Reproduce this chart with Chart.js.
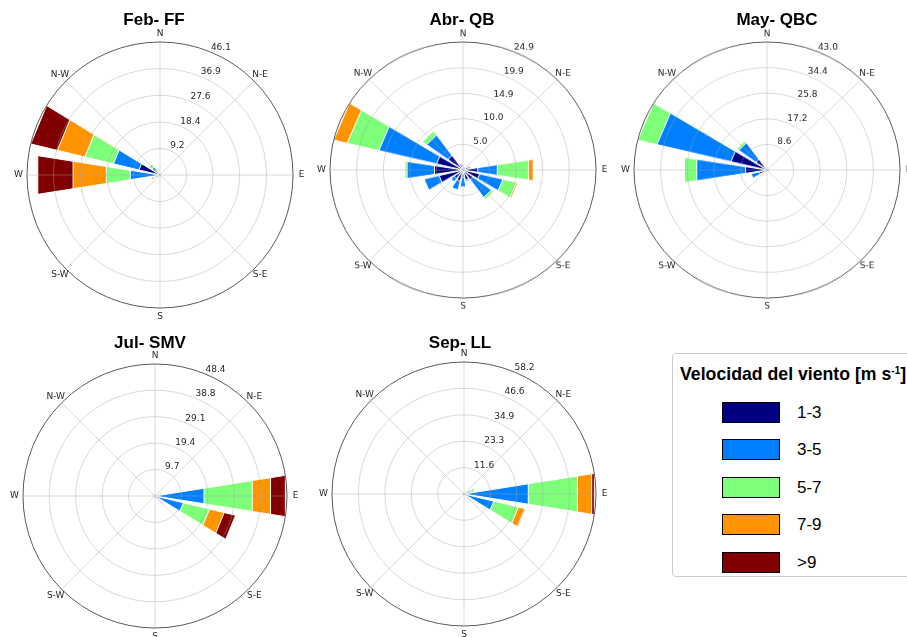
<!DOCTYPE html>
<html lang="es">
<head>
<meta charset="utf-8">
<title>Rosas de viento</title>
<script src="https://cdn.jsdelivr.net/npm/chart.js@4.4.1/dist/chart.umd.min.js"></script>
<style>
  html, body { margin: 0; padding: 0; background: #ffffff; }
  body { position: relative; width: 907px; height: 637px; overflow: hidden; font-family: "Liberation Sans", Arial, sans-serif; }
  canvas.rose { position: absolute; transform-origin: 50% 50%; }
  .rose-title { position: absolute; font-weight: bold; font-size: 17px; line-height: 20px; white-space: nowrap; color: #000; transform: translateX(-50%); z-index: 1; }
  #legend { position: absolute; left: 672px; top: 353px; width: 260px; height: 224px; box-sizing: border-box; border: 1px solid #cccccc; border-radius: 4px; background: #fff; z-index: 2; }
  #legend .lg-title { position: absolute; left: 7px; top: 10px; font-weight: bold; font-size: 17.7px; line-height: 20px; white-space: nowrap; color: #000; }
  #legend .lg-title sup { font-size: 10px; vertical-align: 6px; line-height: 0; }
  .lg-item { position: absolute; left: 49px; height: 21px; }
  .lg-swatch { position: absolute; left: 0; top: 0; width: 58px; height: 21px; box-sizing: border-box; border: 1px solid #000; }
  .lg-label { position: absolute; left: 75px; top: 0; font-size: 17px; line-height: 21px; white-space: nowrap; color: #000; }
</style>
</head>
<body>
<div id="legend"><div class="lg-title">Velocidad del viento [m s<sup>-1</sup>]</div></div>
<script>
// Direction sectors (16) and wind-speed classes
const directions = ['N', 'NNE', 'NE', 'ENE', 'E', 'ESE', 'SE', 'SSE', 'S', 'SSW', 'SW', 'WSW', 'W', 'WNW', 'NW', 'NNW'];
const speedBins = ['1-3', '3-5', '5-7', '7-9', '>9'];
const binColors = ['#000080', '#0080ff', '#7dff7a', '#ff9400', '#800000'];
const compassLabels = ['N', 'N-E', 'E', 'S-E', 'S', 'S-W', 'W', 'N-W'];

// Frequency (%) per direction, one array per speed class
// Feb- FF
const feb_1_3 = [0.3, 0, 0, 0, 0, 0, 0, 0, 0, 0, 0.3, 0.8, 1.5, 7.5, 1.0, 0.4];
const feb_3_5 = [0, 0, 0, 0, 0, 0, 0, 0, 0, 0, 0, 1.0, 8.9, 9.1, 2.5, 0];
const feb_5_7 = [0, 0, 0, 0, 0, 0, 0, 0, 0, 0, 0, 0.5, 8.4, 10.2, 1.2, 0];
const feb_7_9 = [0, 0, 0, 0, 0, 0, 0, 0, 0, 0, 0, 0.4, 11.7, 9.8, 0, 0];
const feb_gt9 = [0, 0, 0, 0, 0, 0, 0, 0, 0, 0, 0, 0.4, 12.4, 9.5, 0, 0];
const febTicks = [9.2, 18.4, 27.6, 36.9, 46.1];

// Abr- QB
const abr_1_3 = [0.6, 0.5, 0.4, 1.2, 2.8, 3.2, 2.3, 2.0, 1.4, 2.2, 2.0, 4.6, 5.4, 5.1, 3.5, 1.2];
const abr_3_5 = [0.5, 0, 0, 0.3, 3.7, 4.5, 4.3, 0.3, 1.9, 1.8, 0.8, 2.9, 5.2, 11.1, 4.9, 0];
const abr_5_7 = [0, 0, 0, 0, 5.9, 2.6, 0.5, 0, 0, 0, 0, 0, 0.4, 6.1, 1.0, 0];
const abr_7_9 = [0, 0, 0, 0, 0.9, 0.3, 0, 0, 0, 0, 0, 0, 0, 2.6, 0, 0];
const abr_gt9 = [0, 0, 0, 0, 0, 0, 0, 0, 0, 0, 0, 0, 0, 0, 0, 0];
const abrTicks = [5.0, 10.0, 14.9, 19.9, 24.9];

// May- QBC
const may_1_3 = [0.3, 0, 0, 0, 0.4, 0, 0, 0, 0, 0, 0.5, 2.5, 7.0, 12.0, 4.4, 0.6];
const may_3_5 = [0, 0, 0, 0, 0.5, 0, 0, 0, 0, 0, 0.3, 2.8, 16.0, 24.6, 6.9, 0];
const may_5_7 = [0, 0, 0, 0, 0, 0, 0, 0, 0, 0, 0, 0, 4.0, 6.4, 0.8, 0];
const may_7_9 = [0, 0, 0, 0, 0, 0, 0, 0, 0, 0, 0, 0, 0, 0, 0, 0];
const may_gt9 = [0, 0, 0, 0, 0, 0, 0, 0, 0, 0, 0, 0, 0, 0, 0, 0];
const mayTicks = [8.6, 17.2, 25.8, 34.4, 43.0];

// Jul- SMV
const jul_1_3 = [0, 0, 0, 0.5, 0.8, 1.0, 0.4, 0, 0, 0, 0, 0, 0.5, 0.8, 0, 0];
const jul_3_5 = [0, 0, 0, 1.0, 17.4, 9.7, 0.8, 0, 0, 0, 0, 0, 0, 0.3, 0, 0];
const jul_5_7 = [0, 0, 0, 1.1, 17.9, 9.9, 0.3, 0, 0, 0, 0, 0, 0, 0, 0, 0];
const jul_7_9 = [0, 0, 0, 0, 6.8, 5.5, 0, 0, 0, 0, 0, 0, 0, 0, 0, 0];
const jul_gt9 = [0, 0, 0, 0, 5.5, 4.3, 0, 0, 0, 0, 0, 0, 0, 0, 0, 0];
const julTicks = [9.7, 19.4, 29.1, 38.8, 48.4];

// Sep- LL
const sep_1_3 = [0, 0, 0.5, 1.5, 1.0, 1.0, 0.5, 0, 0, 0, 0, 0, 0, 0, 0, 0];
const sep_3_5 = [0, 0, 0, 1.5, 27.7, 12.5, 0, 0, 0, 0, 0, 0, 0, 0, 0, 0];
const sep_5_7 = [0, 0, 0, 1.9, 21.9, 11.2, 0, 0, 0, 0, 0, 0, 0, 0, 0, 0];
const sep_7_9 = [0, 0, 0, 0, 6.4, 2.9, 0, 0, 0, 0, 0, 0, 0, 0, 0, 0];
const sep_gt9 = [0, 0, 0, 0, 1.2, 0.4, 0, 0, 0, 0, 0, 0, 0, 0, 0, 0];
const sepTicks = [11.6, 23.3, 34.9, 46.6, 58.2];

// Panels: title, data and where each rose sits on the page (sy = vertical stretch of the panel)
const panels = [
  { title: 'Feb- FF',  bins: [feb_1_3, feb_3_5, feb_5_7, feb_7_9, feb_gt9], ticks: febTicks, cx: 160, cy: 175, R: 133, sy: 1, tx: 154, ty: 9.5 },
  { title: 'Abr- QB',  bins: [abr_1_3, abr_3_5, abr_5_7, abr_7_9, abr_gt9], ticks: abrTicks, cx: 463, cy: 170, R: 133, sy: 128 / 133, tx: 462, ty: 9.5 },
  { title: 'May- QBC', bins: [may_1_3, may_3_5, may_5_7, may_7_9, may_gt9], ticks: mayTicks, cx: 767, cy: 170, R: 133, sy: 128 / 133, tx: 777, ty: 9.5 },
  { title: 'Jul- SMV', bins: [jul_1_3, jul_3_5, jul_5_7, jul_7_9, jul_gt9], ticks: julTicks, cx: 155, cy: 496, R: 132, sy: 1, tx: 150, ty: 332.5 },
  { title: 'Sep- LL',  bins: [sep_1_3, sep_3_5, sep_5_7, sep_7_9, sep_gt9], ticks: sepTicks, cx: 464, cy: 494, R: 132, sy: 1, tx: 460, ty: 332.5 }
];

const BAR_ANGLE = 18;      // degrees covered by each sector bar
const GAP_ANGLE = 4.5;     // empty wedge between neighbouring bars
const PAD = 22;            // room around the circle for the compass text
const gridColor = 'rgba(165,165,165,0.42)';
const frameColor = '#5a5a5a';
const textColor = '#262626';

// 40 spokes of 9 degrees starting at -9 deg: every 5th spoke (from index 1) is a compass point
const spokeLabels = Array.from({ length: 40 }, (_, i) => ((i - 1) % 5 === 0 ? compassLabels[(i - 1) / 5] : ''));

// Compass names around the rim and ring values along the 22.5 deg ray
const roseText = {
  id: 'roseText',
  afterDraw(chart, args, opts) {
    const s = chart.scales.r;
    const ctx = chart.ctx;
    ctx.save();
    ctx.fillStyle = textColor;
    ctx.font = '9px "DejaVu Sans"';
    ctx.textAlign = 'center';
    ctx.textBaseline = 'middle';
    chart.data.labels.forEach((lab, i) => {
      if (!lab) return;
      const p = s.getPointPosition(i, s.drawingArea + 8.5);
      ctx.fillText(lab, p.x, p.y);
    });
    ctx.textAlign = 'left';
    ctx.textBaseline = 'bottom';
    const a = Math.PI / 8;
    opts.ticks.forEach(v => {
      const d = s.getDistanceFromCenterForValue(v);
      ctx.fillText(v.toFixed(1), s.xCenter + d * Math.sin(a), s.yCenter - d * Math.cos(a));
    });
    ctx.restore();
  }
};

function addTitle(p) {
  const t = document.createElement('div');
  t.className = 'rose-title';
  t.textContent = p.title;
  t.style.left = p.tx + 'px';
  t.style.top = p.ty + 'px';
  document.body.appendChild(t);
}

function addRose(p) {
  const size = 2 * p.R + 2 * PAD;
  const cv = document.createElement('canvas');
  cv.className = 'rose';
  cv.width = size;
  cv.height = size;
  cv.style.width = size + 'px';
  cv.style.height = size + 'px';
  cv.style.left = (p.cx - p.R - PAD) + 'px';
  cv.style.top = (p.cy - p.R - PAD) + 'px';
  if (p.sy !== 1) cv.style.transform = 'scaleY(' + p.sy + ')';
  document.body.appendChild(cv);

  // stacked classes: each dataset reaches the running total, the smallest drawn on top
  let run = new Array(directions.length).fill(0);
  const totals = p.bins.map(b => (run = run.map((v, k) => v + b[k])));
  const datasets = totals.map((tot, b) => ({
    label: speedBins[b],
    data: tot.flatMap(v => [v, 0]),
    backgroundColor: binColors[b],
    borderColor: '#ffffff',
    borderWidth: c => (c.index % 2 === 0 && tot[c.index / 2] > 0 ? 1 : 0),
    angle: c => (c.index % 2 === 0 ? BAR_ANGLE : GAP_ANGLE),
    circular: false
  }));

  const rMax = p.ticks[p.ticks.length - 1];
  new Chart(cv, {
    type: 'polarArea',
    data: { labels: spokeLabels, datasets },
    options: {
      responsive: false,
      animation: false,
      devicePixelRatio: 1,
      events: [],
      layout: { padding: PAD },
      plugins: { legend: { display: false }, tooltip: { enabled: false }, roseText: { ticks: p.ticks } },
      scales: {
        r: {
          min: 0,
          max: rMax,
          startAngle: -BAR_ANGLE / 2,
          afterBuildTicks: s => { s.ticks = [0, ...p.ticks].map(v => ({ value: v })); },
          ticks: { display: false },
          pointLabels: { display: false },
          angleLines: {
            display: true,
            color: gridColor,
            lineWidth: c => (spokeLabels[c.index] ? 1 : 0)
          },
          grid: {
            circular: true,
            z: 1,
            color: c => (c.index === p.ticks.length ? frameColor : gridColor),
            lineWidth: 1
          }
        }
      }
    },
    plugins: [roseText]
  });
}

panels.forEach(p => { addRose(p); addTitle(p); });

// legend entries for the speed classes
const legend = document.getElementById('legend');
speedBins.forEach((name, i) => {
  const item = document.createElement('div');
  item.className = 'lg-item';
  item.style.top = (47.5 + i * 37.5) + 'px';
  const sw = document.createElement('div');
  sw.className = 'lg-swatch';
  sw.style.background = binColors[i];
  const lb = document.createElement('div');
  lb.className = 'lg-label';
  lb.textContent = name;
  item.appendChild(sw);
  item.appendChild(lb);
  legend.appendChild(item);
});
</script>
</body>
</html>
